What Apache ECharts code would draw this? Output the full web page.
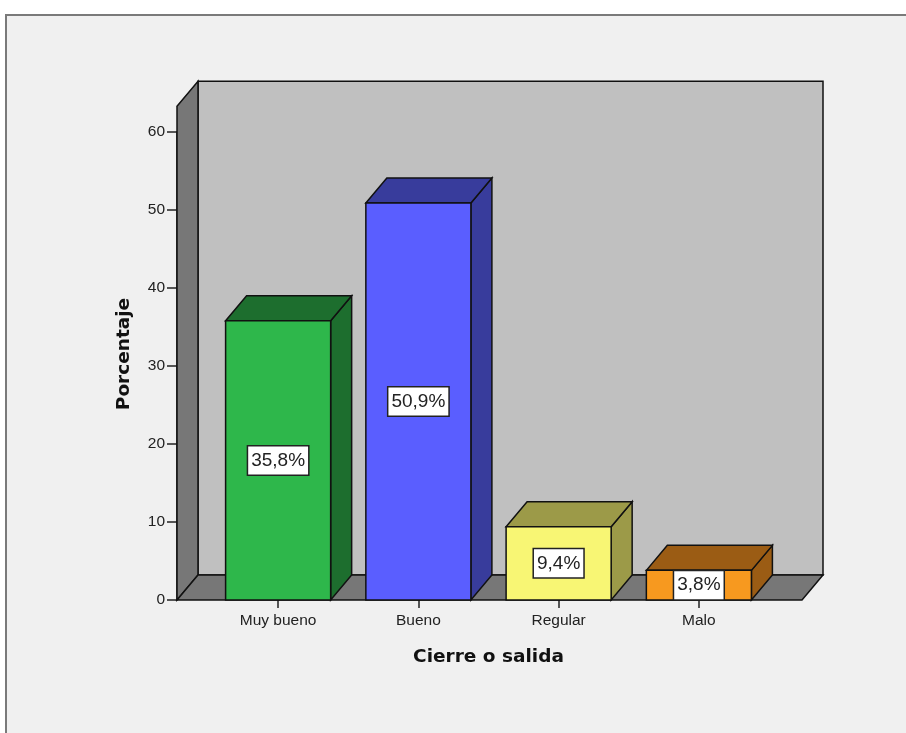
<!DOCTYPE html>
<html>
<head>
<meta charset="utf-8">
<script src="https://cdn.jsdelivr.net/npm/echarts@6/dist/echarts.min.js"></script>
<style>
html,body{margin:0;padding:0;background:#ffffff;}
#chart{width:906px;height:733px;}
</style>
</head>
<body>
<div id="chart"></div>
<script>
// ---- data ----
var categories = ['Muy bueno', 'Bueno', 'Regular', 'Malo'];
var percentages = [35.8, 50.9, 9.4, 3.8];
var valueLabels = ['35,8%', '50,9%', '9,4%', '3,8%'];
var yTicks = [0, 10, 20, 30, 40, 50, 60];
var frontColors = ['#2eb74b', '#5a5eff', '#f8f674', '#f7991f'];
var sideColors = ['#1d6e2e', '#383c9c', '#9c9a48', '#9b5c14'];
var wallTopValue = 63.3;

// ---- styles ----
var DEPTH_X = 21, DEPTH_Y = 25;
var BAR_RATIO = 0.749;
var WALL_EXT_L = 31, WALL_EXT_R = 33;
var EDGE = {stroke: '#111', lineWidth: 1.5};

var chart = echarts.init(document.getElementById('chart'), null, {renderer: 'canvas'});

function renderWalls(params, api) {
  var band = api.size([1, 0])[0];
  var first = api.coord([0, 0]);
  var last = api.coord([categories.length - 1, 0]);
  var top = api.coord([0, wallTopValue])[1];
  var base = first[1];
  var L = first[0] - band / 2 - WALL_EXT_L;
  var R = last[0] + band / 2 + WALL_EXT_R;
  var dx = DEPTH_X, dy = DEPTH_Y;
  return {
    type: 'group',
    children: [
      {type: 'polygon', shape: {points: [[L + dx, top - dy], [R + dx, top - dy], [R + dx, base - dy], [L + dx, base - dy]]},
        style: Object.assign({fill: '#c0c0c0'}, EDGE)},
      {type: 'polygon', shape: {points: [[L, top], [L + dx, top - dy], [L + dx, base - dy], [L, base]]},
        style: Object.assign({fill: '#777777'}, EDGE)},
      {type: 'polygon', shape: {points: [[L, base], [L + dx, base - dy], [R + dx, base - dy], [R, base]]},
        style: Object.assign({fill: '#777777'}, EDGE)}
    ]
  };
}

function renderBar(params, api) {
  var idx = api.value(0);
  var val = api.value(1);
  var band = api.size([1, 0])[0];
  var w = band * BAR_RATIO;
  var topPt = api.coord([idx, val]);
  var basePt = api.coord([idx, 0]);
  var x0 = topPt[0] - w / 2, x1 = topPt[0] + w / 2;
  var yT = topPt[1], yB = basePt[1];
  var dx = DEPTH_X, dy = DEPTH_Y;
  return {
    type: 'group',
    children: [
      {type: 'polygon', shape: {points: [[x1, yT], [x1 + dx, yT - dy], [x1 + dx, yB - dy], [x1, yB]]},
        style: Object.assign({fill: sideColors[idx]}, EDGE)},
      {type: 'polygon', shape: {points: [[x0, yT], [x0 + dx, yT - dy], [x1 + dx, yT - dy], [x1, yT]]},
        style: Object.assign({fill: sideColors[idx]}, EDGE)},
      {type: 'rect', shape: {x: x0, y: yT, width: w, height: yB - yT},
        style: Object.assign({fill: frontColors[idx]}, EDGE)},
      {type: 'text', x: topPt[0], y: (yT + yB) / 2,
        style: {text: valueLabels[idx], x: 0, y: 0, align: 'center', verticalAlign: 'middle',
          fill: '#222', font: '19px "Liberation Sans", Arial, sans-serif',
          backgroundColor: '#ffffff', borderColor: '#222', borderWidth: 1.5, padding: [5, 3, 4, 3]}}
    ]
  };
}

var option = {
  backgroundColor: '#ffffff',
  animation: false,
  graphic: [{
    type: 'rect', left: 5, top: 14, z: -10,
    shape: {width: 1000, height: 1000},
    style: {fill: '#f0f0f0', stroke: '#7a7a7a', lineWidth: 2}
  }],
  grid: {left: 208, right: 137, top: 132, bottom: 133},
  xAxis: {
    type: 'category',
    data: categories,
    axisLine: {show: false},
    axisTick: {show: true, alignWithLabel: true, length: 8, lineStyle: {color: '#222', width: 1.5}},
    axisLabel: {margin: 13, color: '#222', fontSize: 15.5, fontFamily: '"Liberation Sans", Arial, sans-serif'},
    name: 'Cierre o salida',
    nameLocation: 'middle',
    nameGap: 48,
    nameTextStyle: {fontSize: 18.5, fontWeight: 'bold', color: '#111', fontFamily: 'DejaVu Sans'},
    splitLine: {show: false}
  },
  yAxis: {
    type: 'value',
    min: 0, max: 60, interval: 10,
    offset: 31,
    axisLine: {show: true, lineStyle: {color: '#111', width: 1.5}},
    axisTick: {show: true, length: 10, lineStyle: {color: '#222', width: 1.5}},
    axisLabel: {margin: 12, color: '#222', fontSize: 15.5, fontFamily: '"Liberation Sans", Arial, sans-serif',
      formatter: function (v) { return yTicks.indexOf(v) >= 0 ? String(v) : ''; }},
    splitLine: {show: false},
    name: 'Porcentaje',
    nameLocation: 'middle',
    nameRotate: 90,
    nameGap: 43,
    nameTextStyle: {fontSize: 18.5, fontWeight: 'bold', color: '#111', fontFamily: 'DejaVu Sans',
      padding: [0, 0, 0, 24]}
  },
  series: [
    {type: 'custom', renderItem: renderWalls, data: [[0, 0]], z: 1, silent: true},
    {type: 'custom', renderItem: renderBar, z: 3,
      data: percentages.map(function (v, i) { return [i, v]; })}
  ]
};
chart.setOption(option);
</script>
</body>
</html>
